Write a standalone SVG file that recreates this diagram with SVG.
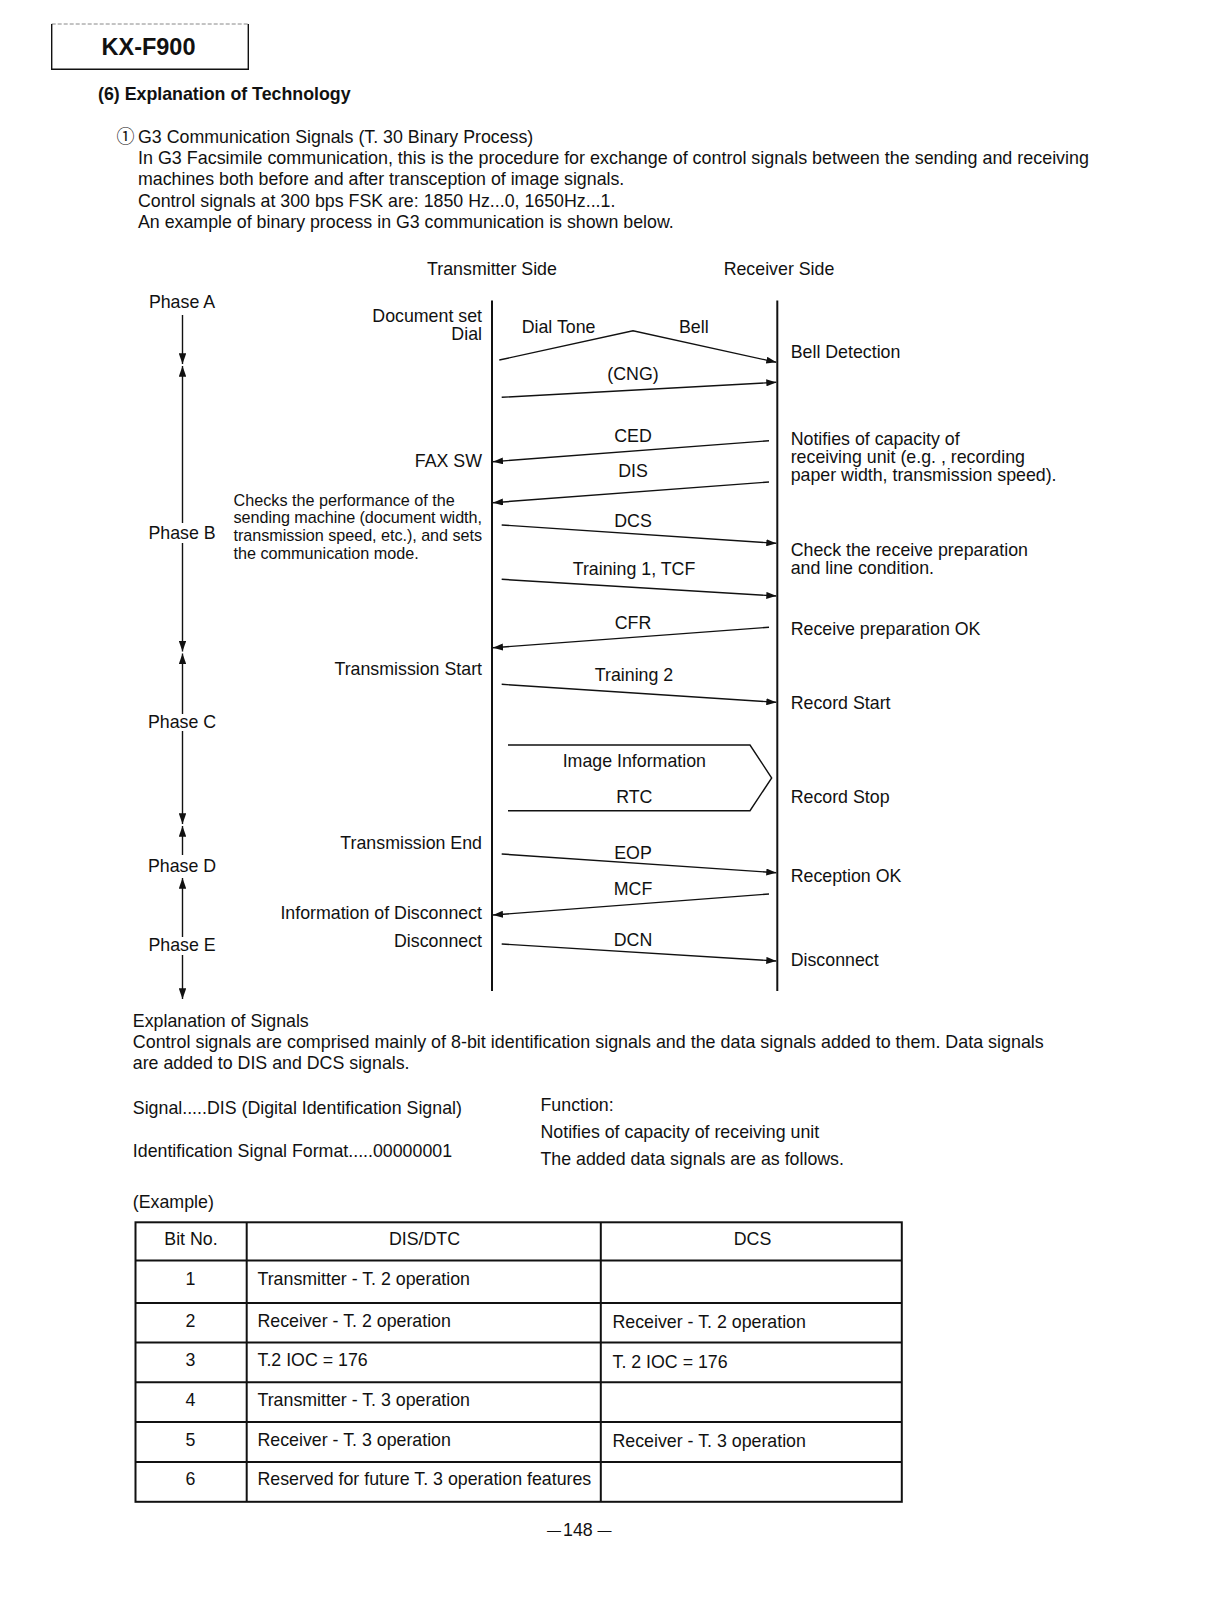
<svg xmlns="http://www.w3.org/2000/svg" width="1216" height="1614" viewBox="0 0 1216 1614">
<style>
text{font-family:"Liberation Sans",Arial,Helvetica,sans-serif;font-size:17.8px;fill:#111}
.b{font-weight:bold}
.s{font-size:16.2px}
.m{text-anchor:middle}
.e{text-anchor:end}
.ln{stroke:#111;stroke-width:1.4;fill:none}
.lf{stroke:#111;stroke-width:2;fill:none}
.sig{stroke:#111;stroke-width:1.4;fill:none;marker-end:url(#ah)}
.tb{stroke:#111;stroke-width:2;fill:none}
</style>
<defs>
<marker id="ah" viewBox="0 0 10 7" refX="10" refY="3.5" markerWidth="10" markerHeight="7" markerUnits="userSpaceOnUse" orient="auto-start-reverse"><path d="M0,0 L10,3.5 L0,7 z" fill="#111"/></marker>
<marker id="ph" viewBox="0 0 10 7" refX="10" refY="3.5" markerWidth="11" markerHeight="7.5" markerUnits="userSpaceOnUse" orient="auto-start-reverse"><path d="M0,0 L10,3.5 L0,7 z" fill="#111"/></marker>
</defs>
<rect width="1216" height="1614" fill="#fff"/>

<g id="header">
<path d="M51.7,24 H248.3" stroke="#888" stroke-width="1" stroke-dasharray="4 2" fill="none"/>
<path d="M51.7,24 V69.3 H248.3 V24" class="ln" stroke-width="1.6"/>
<text x="101.5" y="55" class="b" style="font-size:23px" textLength="94" lengthAdjust="spacingAndGlyphs">KX-F900</text>
<text x="98" y="99.5" class="b">(6) Explanation of Technology</text>
</g>

<g id="intro">
<text x="116.5" y="143" style="font-family:'Noto Sans CJK JP','DejaVu Sans',sans-serif;font-size:18px">①</text>
<text x="138" y="143">G3 Communication Signals (T. 30 Binary Process)</text>
<text x="138" y="164" textLength="951" lengthAdjust="spacingAndGlyphs">In G3 Facsimile communication, this is the procedure for exchange of control signals between the sending and receiving</text>
<text x="138" y="185">machines both before and after transception of image signals.</text>
<text x="138" y="206.5">Control signals at 300 bps FSK are: 1850 Hz...0, 1650Hz...1.</text>
<text x="138" y="227.5">An example of binary process in G3 communication is shown below.</text>
</g>

<g id="phase-axis">
<text x="182" y="308" class="m">Phase A</text>
<text x="182" y="538.5" class="m">Phase B</text>
<text x="182" y="727.5" class="m">Phase C</text>
<text x="182" y="871.5" class="m">Phase D</text>
<text x="182" y="950.5" class="m">Phase E</text>
<g class="ln" stroke-width="1.5">
<line x1="182.5" y1="315" x2="182.5" y2="364" marker-end="url(#ph)"/>
<line x1="182.5" y1="366" x2="182.5" y2="523" marker-start="url(#ph)"/>
<line x1="182.5" y1="543" x2="182.5" y2="651.5" marker-end="url(#ph)"/>
<line x1="182.5" y1="653.5" x2="182.5" y2="714" marker-start="url(#ph)"/>
<line x1="182.5" y1="731" x2="182.5" y2="824" marker-end="url(#ph)"/>
<line x1="182.5" y1="826" x2="182.5" y2="855" marker-start="url(#ph)"/>
<line x1="182.5" y1="878" x2="182.5" y2="937" marker-start="url(#ph)"/>
<line x1="182.5" y1="955" x2="182.5" y2="999" marker-end="url(#ph)"/>
</g>
</g>

<g id="transmitter">
<text x="492" y="274.5" class="m">Transmitter Side</text>
<line x1="492" y1="300.5" x2="492" y2="991" class="lf"/>
<text x="482" y="321.7" class="e">Document set</text>
<text x="482" y="340" class="e">Dial</text>
<text x="482" y="466.5" class="e">FAX SW</text>
<text x="233.5" y="505.5" class="s">Checks the performance of the</text>
<text x="233.5" y="523" class="s" textLength="248.5" lengthAdjust="spacing">sending machine (document width,</text>
<text x="233.5" y="540.5" class="s" textLength="248.5" lengthAdjust="spacing">transmission speed, etc.), and sets</text>
<text x="233.5" y="558.5" class="s">the communication mode.</text>
<text x="482" y="675" class="e">Transmission Start</text>
<text x="482" y="849.3" class="e">Transmission End</text>
<text x="482" y="919.3" class="e">Information of Disconnect</text>
<text x="482" y="947.3" class="e">Disconnect</text>
</g>

<g id="receiver">
<text x="779" y="274.5" class="m">Receiver Side</text>
<line x1="777.3" y1="300.5" x2="777.3" y2="991" class="lf"/>
<text x="790.7" y="358.3">Bell Detection</text>
<text x="790.7" y="445">Notifies of capacity of</text>
<text x="790.7" y="462.7">receiving unit (e.g. , recording</text>
<text x="790.7" y="480.7">paper width, transmission speed).</text>
<text x="790.7" y="556">Check the receive preparation</text>
<text x="790.7" y="574">and line condition.</text>
<text x="790.7" y="634.5">Receive preparation OK</text>
<text x="790.7" y="708.8">Record Start</text>
<text x="790.7" y="802.5">Record Stop</text>
<text x="790.7" y="881.7">Reception OK</text>
<text x="790.7" y="966.3">Disconnect</text>
</g>

<g id="image-information">
<path d="M508,745 H750 L771.7,778 L750,810.7 H508" class="ln"/>
<text x="634.3" y="766.5" class="m">Image Information</text>
<text x="634.3" y="802.5" class="m">RTC</text>
</g>

<g id="connectors">
<polyline points="499.3,360 633,330.8 776.3,362.3" class="sig"/>
<line x1="501.7" y1="397.3" x2="776.3" y2="382.3" class="sig"/>
<line x1="769" y1="440.7" x2="493" y2="461.7" class="sig"/>
<line x1="769" y1="482" x2="493" y2="502.7" class="sig"/>
<line x1="501.7" y1="525" x2="776.3" y2="543.3" class="sig"/>
<line x1="501.7" y1="579.3" x2="776.3" y2="596" class="sig"/>
<line x1="769" y1="627.3" x2="493" y2="647.7" class="sig"/>
<line x1="501.7" y1="684.3" x2="776.3" y2="702.3" class="sig"/>
<line x1="501.7" y1="854" x2="776.3" y2="872.7" class="sig"/>
<line x1="769" y1="894" x2="493" y2="915" class="sig"/>
<line x1="501.7" y1="944" x2="776.3" y2="961" class="sig"/>
</g>

<g id="signal-labels">
<text x="521.7" y="332.7">Dial Tone</text>
<text x="679" y="332.7">Bell</text>
<text x="633" y="380" class="m">(CNG)</text>
<text x="633" y="441.7" class="m">CED</text>
<text x="633" y="476.7" class="m">DIS</text>
<text x="633" y="527.3" class="m">DCS</text>
<text x="634" y="575" class="m">Training 1, TCF</text>
<text x="633" y="629.3" class="m">CFR</text>
<text x="634" y="681" class="m">Training 2</text>
<text x="633" y="859.3" class="m">EOP</text>
<text x="633" y="895" class="m">MCF</text>
<text x="633" y="945.7" class="m">DCN</text>
</g>

<g id="explanation">
<text x="132.8" y="1027">Explanation of Signals</text>
<text x="132.8" y="1048" textLength="911" lengthAdjust="spacingAndGlyphs">Control signals are comprised mainly of 8-bit identification signals and the data signals added to them. Data signals</text>
<text x="132.8" y="1069">are added to DIS and DCS signals.</text>
<text x="132.8" y="1114">Signal.....DIS (Digital Identification Signal)</text>
<text x="132.8" y="1157">Identification Signal Format.....00000001</text>
<text x="540.5" y="1111">Function:</text>
<text x="540.5" y="1138">Notifies of capacity of receiving unit</text>
<text x="540.5" y="1164.5">The added data signals are as follows.</text>
<text x="132.8" y="1207.5">(Example)</text>
</g>

<g id="table">
<rect x="135.5" y="1222.3" width="766.3" height="279.5" class="tb"/>
<line x1="246.7" y1="1222.3" x2="246.7" y2="1501.8" class="tb"/>
<line x1="600.8" y1="1222.3" x2="600.8" y2="1501.8" class="tb"/>
<line x1="135.5" y1="1260.5" x2="901.8" y2="1260.5" class="tb"/>
<line x1="135.5" y1="1303" x2="901.8" y2="1303" class="tb"/>
<line x1="135.5" y1="1342.5" x2="901.8" y2="1342.5" class="tb"/>
<line x1="135.5" y1="1382.3" x2="901.8" y2="1382.3" class="tb"/>
<line x1="135.5" y1="1422" x2="901.8" y2="1422" class="tb"/>
<line x1="135.5" y1="1462" x2="901.8" y2="1462" class="tb"/>
<text x="191" y="1245" class="m">Bit No.</text>
<text x="424.5" y="1245" class="m">DIS/DTC</text>
<text x="752.5" y="1245" class="m">DCS</text>
<text x="190.5" y="1284.5" class="m">1</text>
<text x="190.5" y="1326.5" class="m">2</text>
<text x="190.5" y="1366" class="m">3</text>
<text x="190.5" y="1405.5" class="m">4</text>
<text x="190.5" y="1445.5" class="m">5</text>
<text x="190.5" y="1484.5" class="m">6</text>
<text x="257.5" y="1284.5">Transmitter - T. 2 operation</text>
<text x="257.5" y="1326.5">Receiver - T. 2 operation</text>
<text x="257.5" y="1366">T.2 IOC = 176</text>
<text x="257.5" y="1405.5">Transmitter - T. 3 operation</text>
<text x="257.5" y="1445.5">Receiver - T. 3 operation</text>
<text x="257.5" y="1484.5">Reserved for future T. 3 operation features</text>
<text x="612.5" y="1327.5">Receiver - T. 2 operation</text>
<text x="612.5" y="1367.5">T. 2 IOC = 176</text>
<text x="612.5" y="1446.5">Receiver - T. 3 operation</text>
</g>

<g id="page-number">
<text y="1536"><tspan x="547" dy="-1.5" style="font-size:14px">—</tspan><tspan x="563" dy="1.5">148</tspan><tspan x="597.5" dy="-1.5" style="font-size:14px">—</tspan></text>
</g>
</svg>
